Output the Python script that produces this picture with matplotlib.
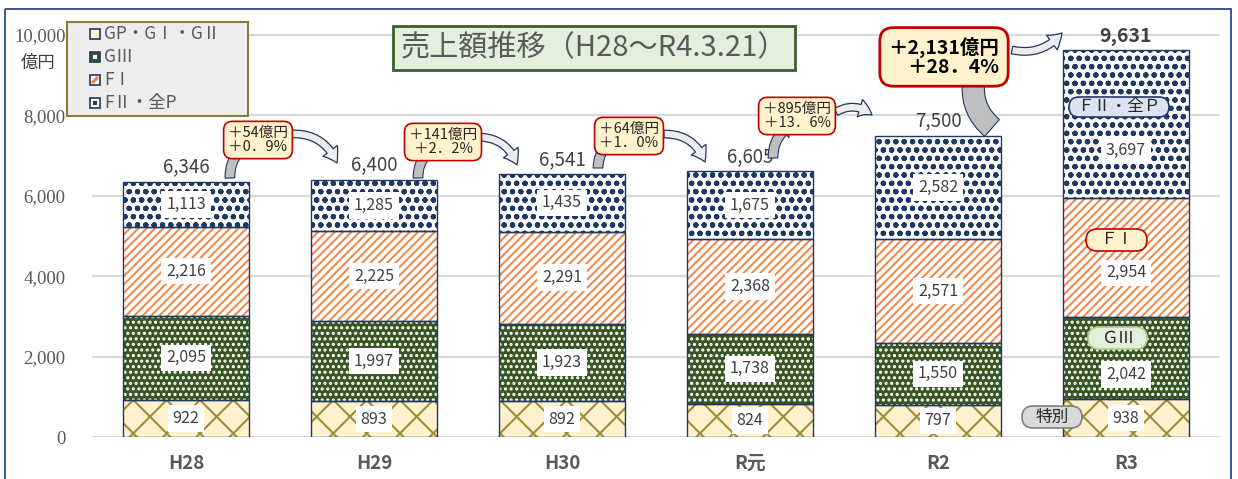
import matplotlib
matplotlib.use('Agg')
import matplotlib.pyplot as plt
from matplotlib.patches import Rectangle, FancyArrowPatch, FancyBboxPatch
from matplotlib.transforms import Affine2D
import numpy as np

plt.rcParams['font.family'] = ['Noto Sans CJK JP', 'DejaVu Sans']
plt.rcParams['hatch.linewidth'] = 1.5

# data (億円)
categories = ['H28', 'H29', 'H30', 'R元', 'R2', 'R3']
gp_g1_g2 = [922, 893, 892, 824, 797, 938]
g3 = [2095, 1997, 1923, 1738, 1550, 2042]
f1 = [2216, 2225, 2291, 2368, 2571, 2954]
f2_allp = [1113, 1285, 1435, 1675, 2582, 3697]
totals = [6346, 6400, 6541, 6605, 7500, 9631]
series_names = ['GP・GⅠ・GⅡ', 'GⅢ', 'FⅠ', 'FⅡ・全P']
change_yen = ['＋54億円', '＋141億円', '＋64億円', '＋895億円', '＋2,131億円']
change_pct = ['＋0．9%', '＋2．2%', '＋1．0%', '＋13．6%', '＋28．4%']
yticks = [0, 2000, 4000, 6000, 8000, 10000]

series = [gp_g1_g2, g3, f1, f2_allp]
styles = [
    dict(face='#fff2cc', hatch='x', hcolor='#a08c3a'),
    dict(face='#375623', hatch='...', hcolor='#ffffff'),
    dict(face='#ffffff', hatch='////', hcolor='#ee8a4e'),
    dict(face='#ffffff', hatch='oo..', hcolor='#1f3864'),
]
NAVY = '#1f3864'

W, H = 1238, 479
fig = plt.figure(figsize=(W / 100, H / 100), dpi=100)
ax = fig.add_axes([92 / W, 42 / H, 1128 / W, 428 / H])
# pixel coords measured from the top-left corner, for the decorations
pix = Affine2D().scale(1 / W, -1 / H).translate(0, 1) + fig.transFigure

x = np.arange(len(categories))
width = 0.67
bottom = np.zeros(len(x))
for vals, st in zip(series, styles):
    ax.bar(x, vals, width, bottom=bottom, color=st['face'], edgecolor=st['hcolor'],
           hatch=st['hatch'], linewidth=0, zorder=2)
    ax.bar(x, vals, width, bottom=bottom, fill=False, edgecolor=NAVY, linewidth=1.0, zorder=3)
    bottom += np.array(vals)

# value labels (R3 ones sit a bit lower because of the tags)
r3_shift = [0, 16, 15, 26]
bottom = np.zeros(len(x))
for s, vals in enumerate(series):
    for i in range(len(x)):
        shift = r3_shift[s] if i == len(x) - 1 else 0
        ax.annotate(f'{vals[i]:,}', (x[i], bottom[i] + vals[i] / 2), xytext=(0, -shift),
                    textcoords='offset pixels', ha='center', va='center', fontsize=11.5,
                    color='#404040', zorder=5,
                    bbox=dict(boxstyle='square,pad=0.3', fc='white', ec='none'))
    bottom += np.array(vals)

for i, t in enumerate(totals):
    last = i == len(totals) - 1
    ax.annotate(f'{t:,}', (x[i], t), xytext=(0, 3), textcoords='offset points',
                ha='center', va='bottom', fontsize=14 if last else 13.5,
                fontweight='bold' if last else 'normal', color='#404040', zorder=5)

ax.set_xlim(-0.5, len(x) - 0.5)
ax.set_ylim(0, 10647)
ax.set_yticks(yticks)
ax.set_yticklabels([f'{v:,}' for v in yticks], fontfamily='Liberation Serif',
                   fontsize=13.5, color='#595959')
ax.set_xticks(x)
ax.set_xticklabels(categories, fontsize=13.5, fontweight='bold', color='#595959')
ax.tick_params(axis='y', length=0, pad=19)
ax.tick_params(axis='x', length=0, pad=12)
ax.grid(axis='y', color='#d9d9d9', linewidth=1.6, zorder=0)
ax.set_axisbelow(True)
for sp in ax.spines.values():
    sp.set_visible(False)
ax.patch.set_visible(False)

# outer frame
fig.add_artist(Rectangle((5, 9), 1226, 480, transform=pix, fill=False,
                         edgecolor='#2f4b8a', linewidth=1.3))

fig.text(38, 63, '億円', transform=pix, ha='center', va='center', fontsize=12.5, color='#404040')

# title
fig.text(594, 48, '売上額推移（H28～R4.3.21）', transform=pix, ha='center', va='center',
         fontsize=21, color='#595959', zorder=6,
         bbox=dict(boxstyle='square,pad=0.25', fc='#e2efda', ec='#3b5e2b', lw=2))

# legend (drawn by hand to match the boxed key)
fig.add_artist(Rectangle((67, 22), 181, 94, transform=pix, facecolor='#ededed',
                         edgecolor='#8c7b36', linewidth=1.5, zorder=5))
legend_marks = [('#fff2cc', None), ('#375623', '#ffffff'), ('#ffffff', '#ee8a4e'), ('#ffffff', NAVY)]
for k, (name, (face, inner)) in enumerate(zip(series_names, legend_marks)):
    yc = 34 + 23 * k
    fig.add_artist(Rectangle((90, yc - 5), 10, 10, transform=pix, facecolor=face,
                             edgecolor=NAVY, linewidth=1.2, zorder=6))
    if inner is not None:
        if k == 2:
            fig.add_artist(FancyArrowPatch((91, yc + 4), (99, yc - 4), transform=pix,
                                           arrowstyle='-', color=inner, linewidth=2.5, zorder=7))
        else:
            fig.add_artist(Rectangle((93, yc - 2), 4, 4, transform=pix, facecolor=inner,
                                     edgecolor='none', zorder=7))
    fig.text(104, yc, name, transform=pix, ha='left', va='center', fontsize=12.5,
             color='#595959', zorder=7)

# change callouts: box centre, tail (from previous bar) and arrow (to next bar), in pixels
boxes = [(258, 140), (443, 142), (629, 136), (797, 116), (944, 57)]
tails = [((230, 178), (248, 145)), ((418, 178), (436, 147)), ((598, 168), (615, 140)),
         ((773, 158), (792, 125)), ((992, 128), (975, 75))]
arrows = [((290, 134), (337, 163)), ((478, 137), (517, 165)), ((664, 134), (705, 162)),
          ((836, 112), (872, 115)), ((1012, 50), (1062, 33))]
for k in range(len(boxes)):
    big = k == len(boxes) - 1
    ta, tb = tails[k]
    fig.add_artist(FancyArrowPatch(ta, tb, transform=pix, connectionstyle='arc3,rad=-0.3',
                                   arrowstyle='simple,head_length=0.8,head_width=1.2,tail_width=%s'
                                   % (1.6 if big else 0.7),
                                   mutation_scale=10, facecolor='#bfbfbf', edgecolor=NAVY,
                                   linewidth=0.8, shrinkA=0, shrinkB=0, zorder=4))
    aa, ab = arrows[k]
    fig.add_artist(FancyArrowPatch(aa, ab, transform=pix,
                                   connectionstyle='arc3,rad=%s' % (0.3 if big else -0.35),
                                   arrowstyle='simple,head_length=1.0,head_width=1.3,tail_width=0.55',
                                   mutation_scale=10, facecolor='#ededed', edgecolor=NAVY,
                                   linewidth=0.9, shrinkA=0, shrinkB=0, zorder=4))
    bx, by = boxes[k]
    fig.text(bx, by, change_yen[k] + '\n' + change_pct[k], transform=pix, ha='center',
             va='center', multialignment='right' if big else 'center',
             fontsize=14 if big else 10.5, fontweight='bold' if big else 'normal',
             color='#000000' if big else '#262626', linespacing=1.05, zorder=6,
             bbox=dict(boxstyle='round,pad=%s,rounding_size=%s' % ((0.45, 0.7) if big else (0.3, 0.6)),
                       fc='#fff2cc', ec='#c00000', lw=2 if big else 1.2))

# pill-shaped tags inside the R3 bar: text, left, top, width, height, fill, edge
tags = [('ＦⅡ・全Ｐ', 1069, 97, 100, 20, '#dae3f3', NAVY),
        ('ＦⅠ', 1086, 229, 61, 22, '#fff2cc', '#c00000'),
        ('ＧⅢ', 1088, 327, 59, 22, '#e2efda', '#a9d08e'),
        ('特別', 1022, 406, 60, 22, '#d9d9d9', '#7f7f7f')]
for text, tx, ty, tw, th, fc, ec in tags:
    fig.add_artist(FancyBboxPatch((tx, ty), tw, th, transform=pix,
                                  boxstyle='round,pad=0,rounding_size=%s' % (th / 2),
                                  facecolor=fc, edgecolor=ec, linewidth=1.2, zorder=8))
    fig.text(tx + tw / 2, ty + th / 2, text, transform=pix, ha='center', va='center',
             fontsize=12, color='#262626', zorder=9)

fig.savefig('out.png', dpi=100)
